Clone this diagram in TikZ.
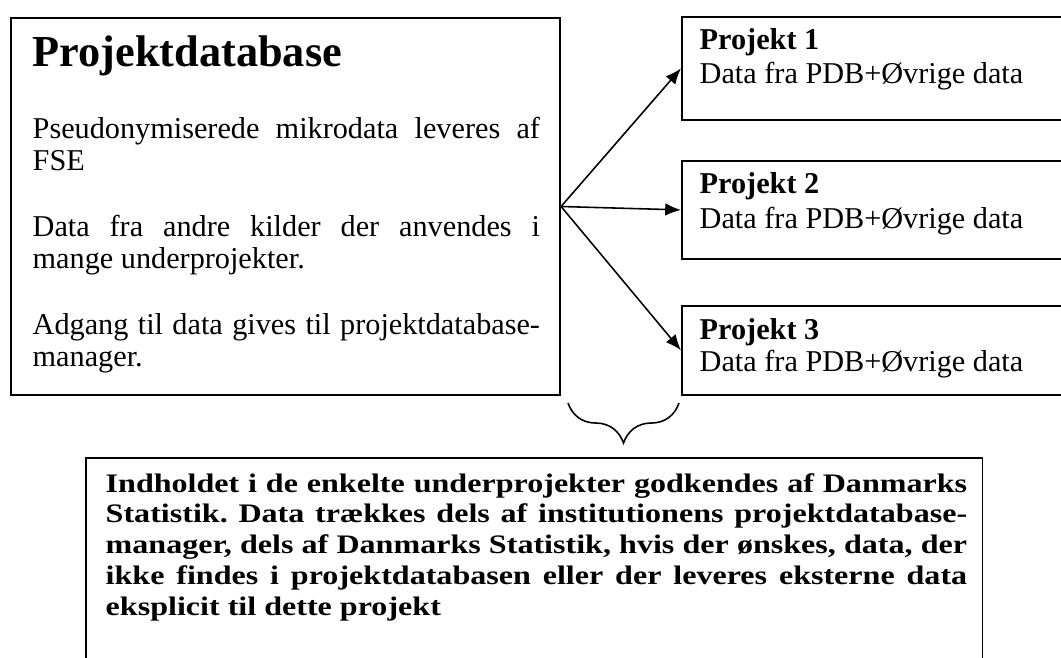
\documentclass[tikz,border=0pt]{standalone}
\usepackage{fontspec}
\setmainfont{Liberation Serif}
\newfontfamily\notefamily{Liberation Serif}[FakeStretch=1.2]
\usetikzlibrary{arrows.meta, decorations.pathreplacing}

\tolerance=10000
\hyphenpenalty=10000
\frenchspacing

\newcommand\pdbheadfont{\fontsize{12.6}{15}\selectfont\bfseries}
\newcommand\pdbbodyfont{\fontsize{8.6}{9.3}\selectfont}
\newcommand\pdbprojfont{\fontsize{8.6}{9}\selectfont}
\newcommand\pdbnotefont{\notefamily\fontsize{7.6}{8.8}\selectfont\bfseries}

\begin{document}
\begin{tikzpicture}[x=0.01cm, y=-0.01cm,
    frame/.style = {draw, line width=0.5pt, inner sep=0pt, anchor=north west},
    txt/.style = {inner sep=0pt, anchor=base west},
    arrow/.style = {line width=0.45pt, -{Latex[length=4.5pt, width=3.6pt]}}]
      \useasboundingbox (0,0) rectangle (1061,657);
      \clip (0,0) rectangle (1061,657);

      % projektdatabase
      \node [frame, minimum width=5.49cm, minimum height=3.77cm] (pdb) at (10,17) {};
      \node [txt, font=\pdbheadfont] (pdbtitle) at (32,66) {Projektdatabase};
      \node [txt, font=\pdbbodyfont, text width=5.07cm, align=justify] (pdbtext) at (32,138)
        {Pseudonymiserede mikrodata leveres af\linebreak FSE\par\vspace{9.3pt}
         Data fra andre kilder der anvendes i\linebreak mange underprojekter.\par\vspace{9.3pt}
         Adgang til data gives til projektdatabase-\linebreak manager.};

      % underprojekter
      \foreach \i/\boxtop/\boxh/\tb/\db in {1/16/1.03/49/83, 2/160/0.98/193/228, 3/305/0.89/339/371}
               {
                 \node [frame, minimum width=4.6cm, minimum height=\boxh cm] (p\i) at (681,\boxtop) {};
                 \node [txt, font=\pdbprojfont\bfseries] (p\i title) at (699,\tb) {Projekt \i};
                 \node [txt, font=\pdbprojfont] (p\i data) at (699,\db) {Data fra PDB+Øvrige data};
                 \draw [arrow] (pdb.east) -- (p\i.west);
               }

      % brace and note
      \coordinate (bl) at (568,403);
      \coordinate (br) at (679,403);
      \draw [line width=0.45pt, decorate, decoration={brace, mirror, amplitude=0.4cm}] (bl) -- (br);
      \node [frame, minimum width=8.96cm, minimum height=2.7cm] (note) at (85,457) {};
      \node [txt, font=\pdbnotefont, text width=8.61cm, align=justify] (notetext) at (105,492)
        {Indholdet i de enkelte underprojekter godkendes af Danmarks\linebreak
         Statistik. Data trækkes dels af institutionens projektdatabase-\linebreak manager,
         dels af Danmarks Statistik, hvis der ønskes, data, der\linebreak
         ikke findes i projektdatabasen eller der leveres eksterne data\linebreak
         eksplicit til dette projekt};
\end{tikzpicture}
\end{document}
